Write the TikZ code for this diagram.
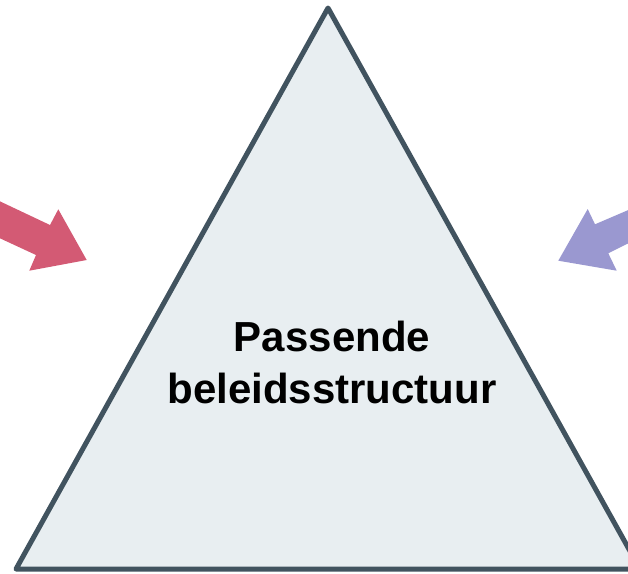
\documentclass[tikz,border=0pt]{standalone}
\usepackage{fontspec}
\setmainfont{Liberation Sans}
\definecolor{trifill}{HTML}{E8EEF1}
\definecolor{tristroke}{HTML}{41535F}
\definecolor{pinkarrow}{HTML}{D35A74}
\definecolor{purplearrow}{HTML}{9A98D0}
\begin{document}
\begin{tikzpicture}[x=1pt,y=-1pt,
  tri/.style={fill=trifill,draw=tristroke,line width=5pt,line join=round},
  arrowshape/.style={draw=none},
  lbl/.style={font=\fontsize{42}{52}\selectfont\bfseries,align=center,text=black}]
\useasboundingbox (0,0) rectangle (628,573);
\clip (0,0) rectangle (628,573);
\coordinate (apex) at (328,8);
\coordinate (bl) at (16,569);
\coordinate (br) at (640,569);
\draw[tri] (apex) -- (bl) -- (br) -- cycle;
% left arrow
\fill[pinkarrow] (-5,199) -- (50,225) -- (58.3,209.3) -- (86.7,260) -- (29.3,270.7) -- (36,255) -- (-5,236) -- cycle;
% right arrow
\fill[purplearrow] (633,208) -- (595,224.3) -- (587.7,209) -- (558.3,260.7) -- (616.7,270.7) -- (608.3,253.3) -- (633,241) -- cycle;
\node[lbl] (label) at (332,362) {Passende\\beleidsstructuur};
\end{tikzpicture}
\end{document}
